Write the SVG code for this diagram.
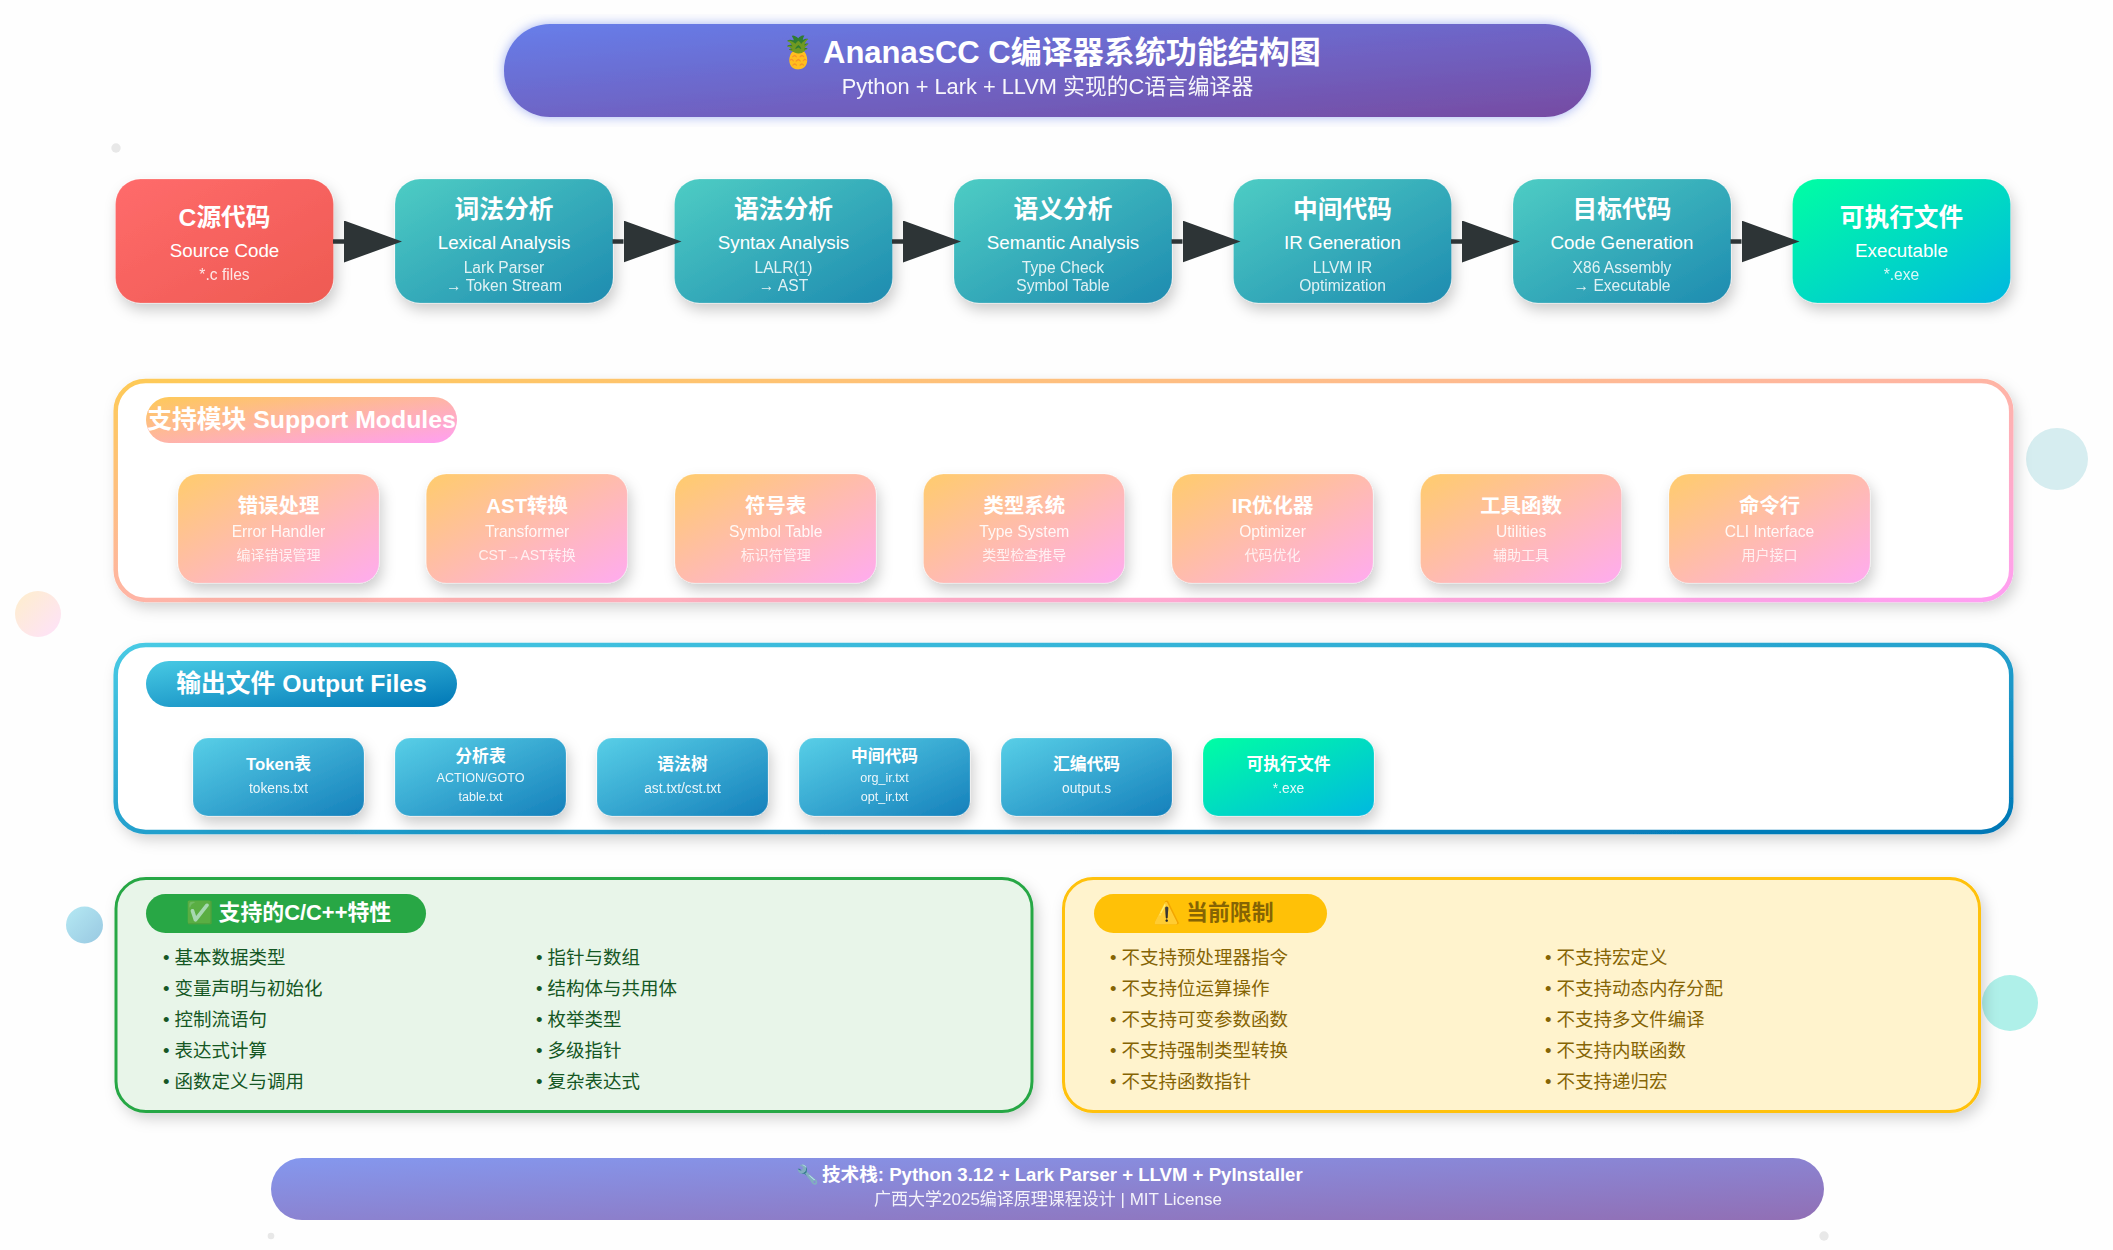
<svg xmlns="http://www.w3.org/2000/svg" width="2113" height="1250" viewBox="0 0 2113 1250">
<style>
text{font-family:"Liberation Sans","Noto Sans CJK SC",sans-serif;fill:#fff;text-anchor:middle}
.b{font-weight:700}
.st{text-anchor:start}
.pt{font-size:24.7px;font-weight:700}
.ps{font-size:18.8px}
.pd{font-size:15.6px;opacity:.85}
.mt{font-size:20.4px;font-weight:700}
.ms{font-size:15.6px;opacity:.9}
.md{font-size:14px;opacity:.8}
.ot{font-size:16.8px;font-weight:700}
.os{font-size:13.8px;opacity:.9}
.ox{font-size:12.6px;opacity:.9}
.bd{font-size:24.8px;font-weight:700}
.fb{font-size:21.9px;font-weight:700;text-anchor:start}
.li{font-size:18.5px;text-anchor:start}
.g{fill:#155724}
.y{fill:#856404}
.box{stroke:#fff;stroke-opacity:.2;stroke-width:1}
.conn{stroke:#2d3436;stroke-width:4.5;fill:none;marker-end:url(#arrow)}
</style>
<defs>
<linearGradient id="gHead" x1="0" y1="0" x2="1" y2="1"><stop offset="0" stop-color="#667eea"/><stop offset="1" stop-color="#764ba2"/></linearGradient>
<linearGradient id="gRed" x1="0" y1="0" x2="1" y2="1"><stop offset="0" stop-color="#ff6b6b"/><stop offset="1" stop-color="#ee5a52"/></linearGradient>
<linearGradient id="gTeal" x1="0" y1="0" x2="1" y2="1"><stop offset="0" stop-color="#4ecdc4"/><stop offset="1" stop-color="#1e8bb0"/></linearGradient>
<linearGradient id="gExe" x1="0" y1="0" x2="1" y2="1"><stop offset="0" stop-color="#00ffa3"/><stop offset="1" stop-color="#00b8e0"/></linearGradient>
<linearGradient id="gSup" x1="0" y1="0" x2="1" y2="1"><stop offset="0" stop-color="#feca57"/><stop offset="1" stop-color="#ff9ff3"/></linearGradient>
<linearGradient id="gMod" x1="0" y1="0" x2="1" y2="1"><stop offset="0" stop-color="#ffcc6c"/><stop offset="1" stop-color="#ffabf0"/></linearGradient>
<linearGradient id="gOut" x1="0" y1="0" x2="1" y2="1"><stop offset="0" stop-color="#48cae4"/><stop offset="1" stop-color="#0077b6"/></linearGradient>
<linearGradient id="gFile" x1="0" y1="0" x2="1" y2="1"><stop offset="0" stop-color="#58cfe7"/><stop offset="1" stop-color="#1580bb"/></linearGradient>
<filter id="sh" x="-20%" y="-20%" width="145%" height="150%"><feDropShadow dx="3" dy="7" stdDeviation="7" flood-color="#000" flood-opacity=".2"/></filter>
<filter id="shC" x="-3%" y="-10%" width="106%" height="125%"><feDropShadow dx="4" dy="6" stdDeviation="7" flood-color="#000" flood-opacity=".17"/></filter>
<filter id="shH" x="-1%" y="-10%" width="102%" height="120%"><feDropShadow dx="0" dy="0" stdDeviation="6" flood-color="#667eea" flood-opacity=".6"/></filter>
<marker id="arrow" markerUnits="userSpaceOnUse" markerWidth="58" markerHeight="42" refX="0" refY="21" orient="auto"><polygon points="0,0 58,21 0,42" fill="#2d3436"/></marker>
</defs>
<rect width="2113" height="1250" fill="#fefefe"/>
<g id="decor">
<circle cx="2057" cy="459" r="31" fill="#d6edf0"/>
<circle cx="38" cy="614" r="23" fill="url(#gSup)" opacity=".3"/>
<circle cx="84.5" cy="925" r="18.5" fill="url(#gOut)" opacity=".4"/>
<circle cx="2010" cy="1003" r="28" fill="#aff0e9"/>
<circle cx="116" cy="148" r="4.7" fill="#e8e8e8"/>
<circle cx="271" cy="1236" r="3.3" fill="#e8e8e8"/>
<circle cx="1824" cy="1236" r="4.7" fill="#e8e8e8"/>
</g>
<g id="header">
<rect x="504" y="24" width="1087" height="93" rx="46" fill="url(#gHead)" filter="url(#shH)"/>
<text x="779" y="63" font-size="31" class="b st">🍍 <tspan x="823">AnanasCC C编译器系统功能结构图</tspan></text>
<text x="1047.5" y="94" font-size="21.8" opacity=".95">Python + Lark + LLVM 实现的C语言编译器</text>
</g>
<g id="n-source"><rect class="box" x="115.5" y="179" width="218" height="124" rx="25" fill="url(#gRed)" filter="url(#sh)"/><text x="224.5" y="226" class="pt">C源代码</text><text x="224.5" y="257" class="ps">Source Code</text><text x="224.5" y="279.5" class="pd">*.c files</text></g>
<g id="n-lexical"><rect class="box" x="395" y="179" width="218" height="124" rx="25" fill="url(#gTeal)" filter="url(#sh)"/><text x="504" y="218" class="pt">词法分析</text><text x="504" y="249" class="ps">Lexical Analysis</text><text x="504" y="272.5" class="pd">Lark Parser</text><text x="504" y="290.5" class="pd">→ Token Stream</text></g>
<g id="n-syntax"><rect class="box" x="674.5" y="179" width="218" height="124" rx="25" fill="url(#gTeal)" filter="url(#sh)"/><text x="783.5" y="218" class="pt">语法分析</text><text x="783.5" y="249" class="ps">Syntax Analysis</text><text x="783.5" y="272.5" class="pd">LALR(1)</text><text x="783.5" y="290.5" class="pd">→ AST</text></g>
<g id="n-semantic"><rect class="box" x="954" y="179" width="218" height="124" rx="25" fill="url(#gTeal)" filter="url(#sh)"/><text x="1063" y="218" class="pt">语义分析</text><text x="1063" y="249" class="ps">Semantic Analysis</text><text x="1063" y="272.5" class="pd">Type Check</text><text x="1063" y="290.5" class="pd">Symbol Table</text></g>
<g id="n-ir"><rect class="box" x="1233.5" y="179" width="218" height="124" rx="25" fill="url(#gTeal)" filter="url(#sh)"/><text x="1342.5" y="218" class="pt">中间代码</text><text x="1342.5" y="249" class="ps">IR Generation</text><text x="1342.5" y="272.5" class="pd">LLVM IR</text><text x="1342.5" y="290.5" class="pd">Optimization</text></g>
<g id="n-target"><rect class="box" x="1513" y="179" width="218" height="124" rx="25" fill="url(#gTeal)" filter="url(#sh)"/><text x="1622" y="218" class="pt">目标代码</text><text x="1622" y="249" class="ps">Code Generation</text><text x="1622" y="272.5" class="pd">X86 Assembly</text><text x="1622" y="290.5" class="pd">→ Executable</text></g>
<g id="n-exe"><rect class="box" x="1792.5" y="179" width="218" height="124" rx="25" fill="url(#gExe)" filter="url(#sh)"/><text x="1901.5" y="226" class="pt">可执行文件</text><text x="1901.5" y="257" class="ps">Executable</text><text x="1901.5" y="279.5" class="pd">*.exe</text></g>
<g id="connectors">
<line class="conn" x1="333" y1="241.5" x2="344" y2="241.5"/>
<line class="conn" x1="612.5" y1="241.5" x2="623.5" y2="241.5"/>
<line class="conn" x1="892" y1="241.5" x2="903" y2="241.5"/>
<line class="conn" x1="1171.5" y1="241.5" x2="1182.5" y2="241.5"/>
<line class="conn" x1="1451" y1="241.5" x2="1462" y2="241.5"/>
<line class="conn" x1="1730.5" y1="241.5" x2="1741.5" y2="241.5"/>
</g>
<g id="support">
<rect x="115.7" y="381" width="1895.5" height="219" rx="30" fill="#fff" stroke="url(#gSup)" stroke-width="4.5" filter="url(#shC)"/>
<rect x="146" y="397" width="311" height="46" rx="23" fill="url(#gSup)"/>
<text x="301.5" y="428" class="bd">支持模块 Support Modules</text>
</g>
<g id="m-error"><rect class="box" x="178" y="474" width="201" height="109" rx="20" fill="url(#gMod)" filter="url(#sh)"/><text x="278.5" y="513" class="mt">错误处理</text><text x="278.5" y="537" class="ms">Error Handler</text><text x="278.5" y="560" class="md">编译错误管理</text></g>
<g id="m-ast"><rect class="box" x="426.3" y="474" width="201" height="109" rx="20" fill="url(#gMod)" filter="url(#sh)"/><text x="527.1" y="513" class="mt">AST转换</text><text x="527.1" y="537" class="ms">Transformer</text><text x="527.1" y="560" class="md">CST→AST转换</text></g>
<g id="m-symbol"><rect class="box" x="675" y="474" width="201" height="109" rx="20" fill="url(#gMod)" filter="url(#sh)"/><text x="775.7" y="513" class="mt">符号表</text><text x="775.7" y="537" class="ms">Symbol Table</text><text x="775.7" y="560" class="md">标识符管理</text></g>
<g id="m-type"><rect class="box" x="923.5" y="474" width="201" height="109" rx="20" fill="url(#gMod)" filter="url(#sh)"/><text x="1024.3" y="513" class="mt">类型系统</text><text x="1024.3" y="537" class="ms">Type System</text><text x="1024.3" y="560" class="md">类型检查推导</text></g>
<g id="m-opt"><rect class="box" x="1172" y="474" width="201" height="109" rx="20" fill="url(#gMod)" filter="url(#sh)"/><text x="1272.5" y="513" class="mt">IR优化器</text><text x="1272.5" y="537" class="ms">Optimizer</text><text x="1272.5" y="560" class="md">代码优化</text></g>
<g id="m-util"><rect class="box" x="1420.5" y="474" width="201" height="109" rx="20" fill="url(#gMod)" filter="url(#sh)"/><text x="1521.1" y="513" class="mt">工具函数</text><text x="1521.1" y="537" class="ms">Utilities</text><text x="1521.1" y="560" class="md">辅助工具</text></g>
<g id="m-cli"><rect class="box" x="1669" y="474" width="201" height="109" rx="20" fill="url(#gMod)" filter="url(#sh)"/><text x="1769.5" y="513" class="mt">命令行</text><text x="1769.5" y="537" class="ms">CLI Interface</text><text x="1769.5" y="560" class="md">用户接口</text></g>
<g id="output">
<rect x="115.7" y="645" width="1895.5" height="187" rx="30" fill="#fff" stroke="url(#gOut)" stroke-width="4.5" filter="url(#shC)"/>
<rect x="146" y="661" width="311" height="46" rx="23" fill="url(#gOut)"/>
<text x="301.5" y="692" class="bd">输出文件 Output Files</text>
</g>
<g id="o-token"><rect class="box" x="193" y="738" width="171" height="78" rx="15" fill="url(#gFile)" filter="url(#sh)"/><text x="278.5" y="770" class="ot">Token表</text><text x="278.5" y="793" class="os">tokens.txt</text></g>
<g id="o-table"><rect class="box" x="395" y="738" width="171" height="78" rx="15" fill="url(#gFile)" filter="url(#sh)"/><text x="480.5" y="762" class="ot">分析表</text><text x="480.5" y="782" class="ox">ACTION/GOTO</text><text x="480.5" y="801" class="ox">table.txt</text></g>
<g id="o-ast"><rect class="box" x="597" y="738" width="171" height="78" rx="15" fill="url(#gFile)" filter="url(#sh)"/><text x="682.5" y="770" class="ot">语法树</text><text x="682.5" y="793" class="os">ast.txt/cst.txt</text></g>
<g id="o-ir"><rect class="box" x="799" y="738" width="171" height="78" rx="15" fill="url(#gFile)" filter="url(#sh)"/><text x="884.5" y="762" class="ot">中间代码</text><text x="884.5" y="782" class="ox">org_ir.txt</text><text x="884.5" y="801" class="ox">opt_ir.txt</text></g>
<g id="o-asm"><rect class="box" x="1001" y="738" width="171" height="78" rx="15" fill="url(#gFile)" filter="url(#sh)"/><text x="1086.5" y="770" class="ot">汇编代码</text><text x="1086.5" y="793" class="os">output.s</text></g>
<g id="o-exe"><rect class="box" x="1203" y="738" width="171" height="78" rx="15" fill="url(#gExe)" filter="url(#sh)"/><text x="1288.5" y="770" class="ot">可执行文件</text><text x="1288.5" y="793" class="os">*.exe</text></g>
<g id="features">
<rect x="116" y="878.5" width="916" height="233" rx="30" fill="#e8f5e9" stroke="#28a745" stroke-width="3" filter="url(#shC)"/>
<rect x="146" y="894" width="280" height="39" rx="19.5" fill="#28a745"/>
<text x="186" y="920" class="fb"><tspan fill-opacity=".6">✅ </tspan><tspan x="218.5">支持的C/C++特性</tspan></text>
<text class="li g" x="163" y="964">• 基本数据类型</text><text class="li g" x="163" y="995">• 变量声明与初始化</text><text class="li g" x="163" y="1026">• 控制流语句</text><text class="li g" x="163" y="1057">• 表达式计算</text><text class="li g" x="163" y="1088">• 函数定义与调用</text>
<text class="li g" x="536" y="964">• 指针与数组</text><text class="li g" x="536" y="995">• 结构体与共用体</text><text class="li g" x="536" y="1026">• 枚举类型</text><text class="li g" x="536" y="1057">• 多级指针</text><text class="li g" x="536" y="1088">• 复杂表达式</text>
</g>
<g id="limits">
<rect x="1063.5" y="878.5" width="916" height="233" rx="30" fill="#fff3cd" stroke="#ffc107" stroke-width="3" filter="url(#shC)"/>
<rect x="1094" y="894" width="233" height="39" rx="19.5" fill="#ffc107"/>
<text class="fb y" x="1153" y="920">⚠️ <tspan x="1186">当前限制</tspan></text>
<text class="li y" x="1110" y="964">• 不支持预处理器指令</text><text class="li y" x="1110" y="995">• 不支持位运算操作</text><text class="li y" x="1110" y="1026">• 不支持可变参数函数</text><text class="li y" x="1110" y="1057">• 不支持强制类型转换</text><text class="li y" x="1110" y="1088">• 不支持函数指针</text>
<text class="li y" x="1545" y="964">• 不支持宏定义</text><text class="li y" x="1545" y="995">• 不支持动态内存分配</text><text class="li y" x="1545" y="1026">• 不支持多文件编译</text><text class="li y" x="1545" y="1057">• 不支持内联函数</text><text class="li y" x="1545" y="1088">• 不支持递归宏</text>
</g>
<g id="footer">
<rect x="271" y="1158" width="1553" height="62" rx="31" fill="url(#gHead)" opacity=".8"/>
<text x="796" y="1181" font-size="18.6" class="b st">🔧 <tspan x="822">技术栈: Python 3.12 + Lark Parser + LLVM + PyInstaller</tspan></text>
<text x="1048" y="1205" font-size="17" opacity=".9">广西大学2025编译原理课程设计 | MIT License</text>
</g>
</svg>
